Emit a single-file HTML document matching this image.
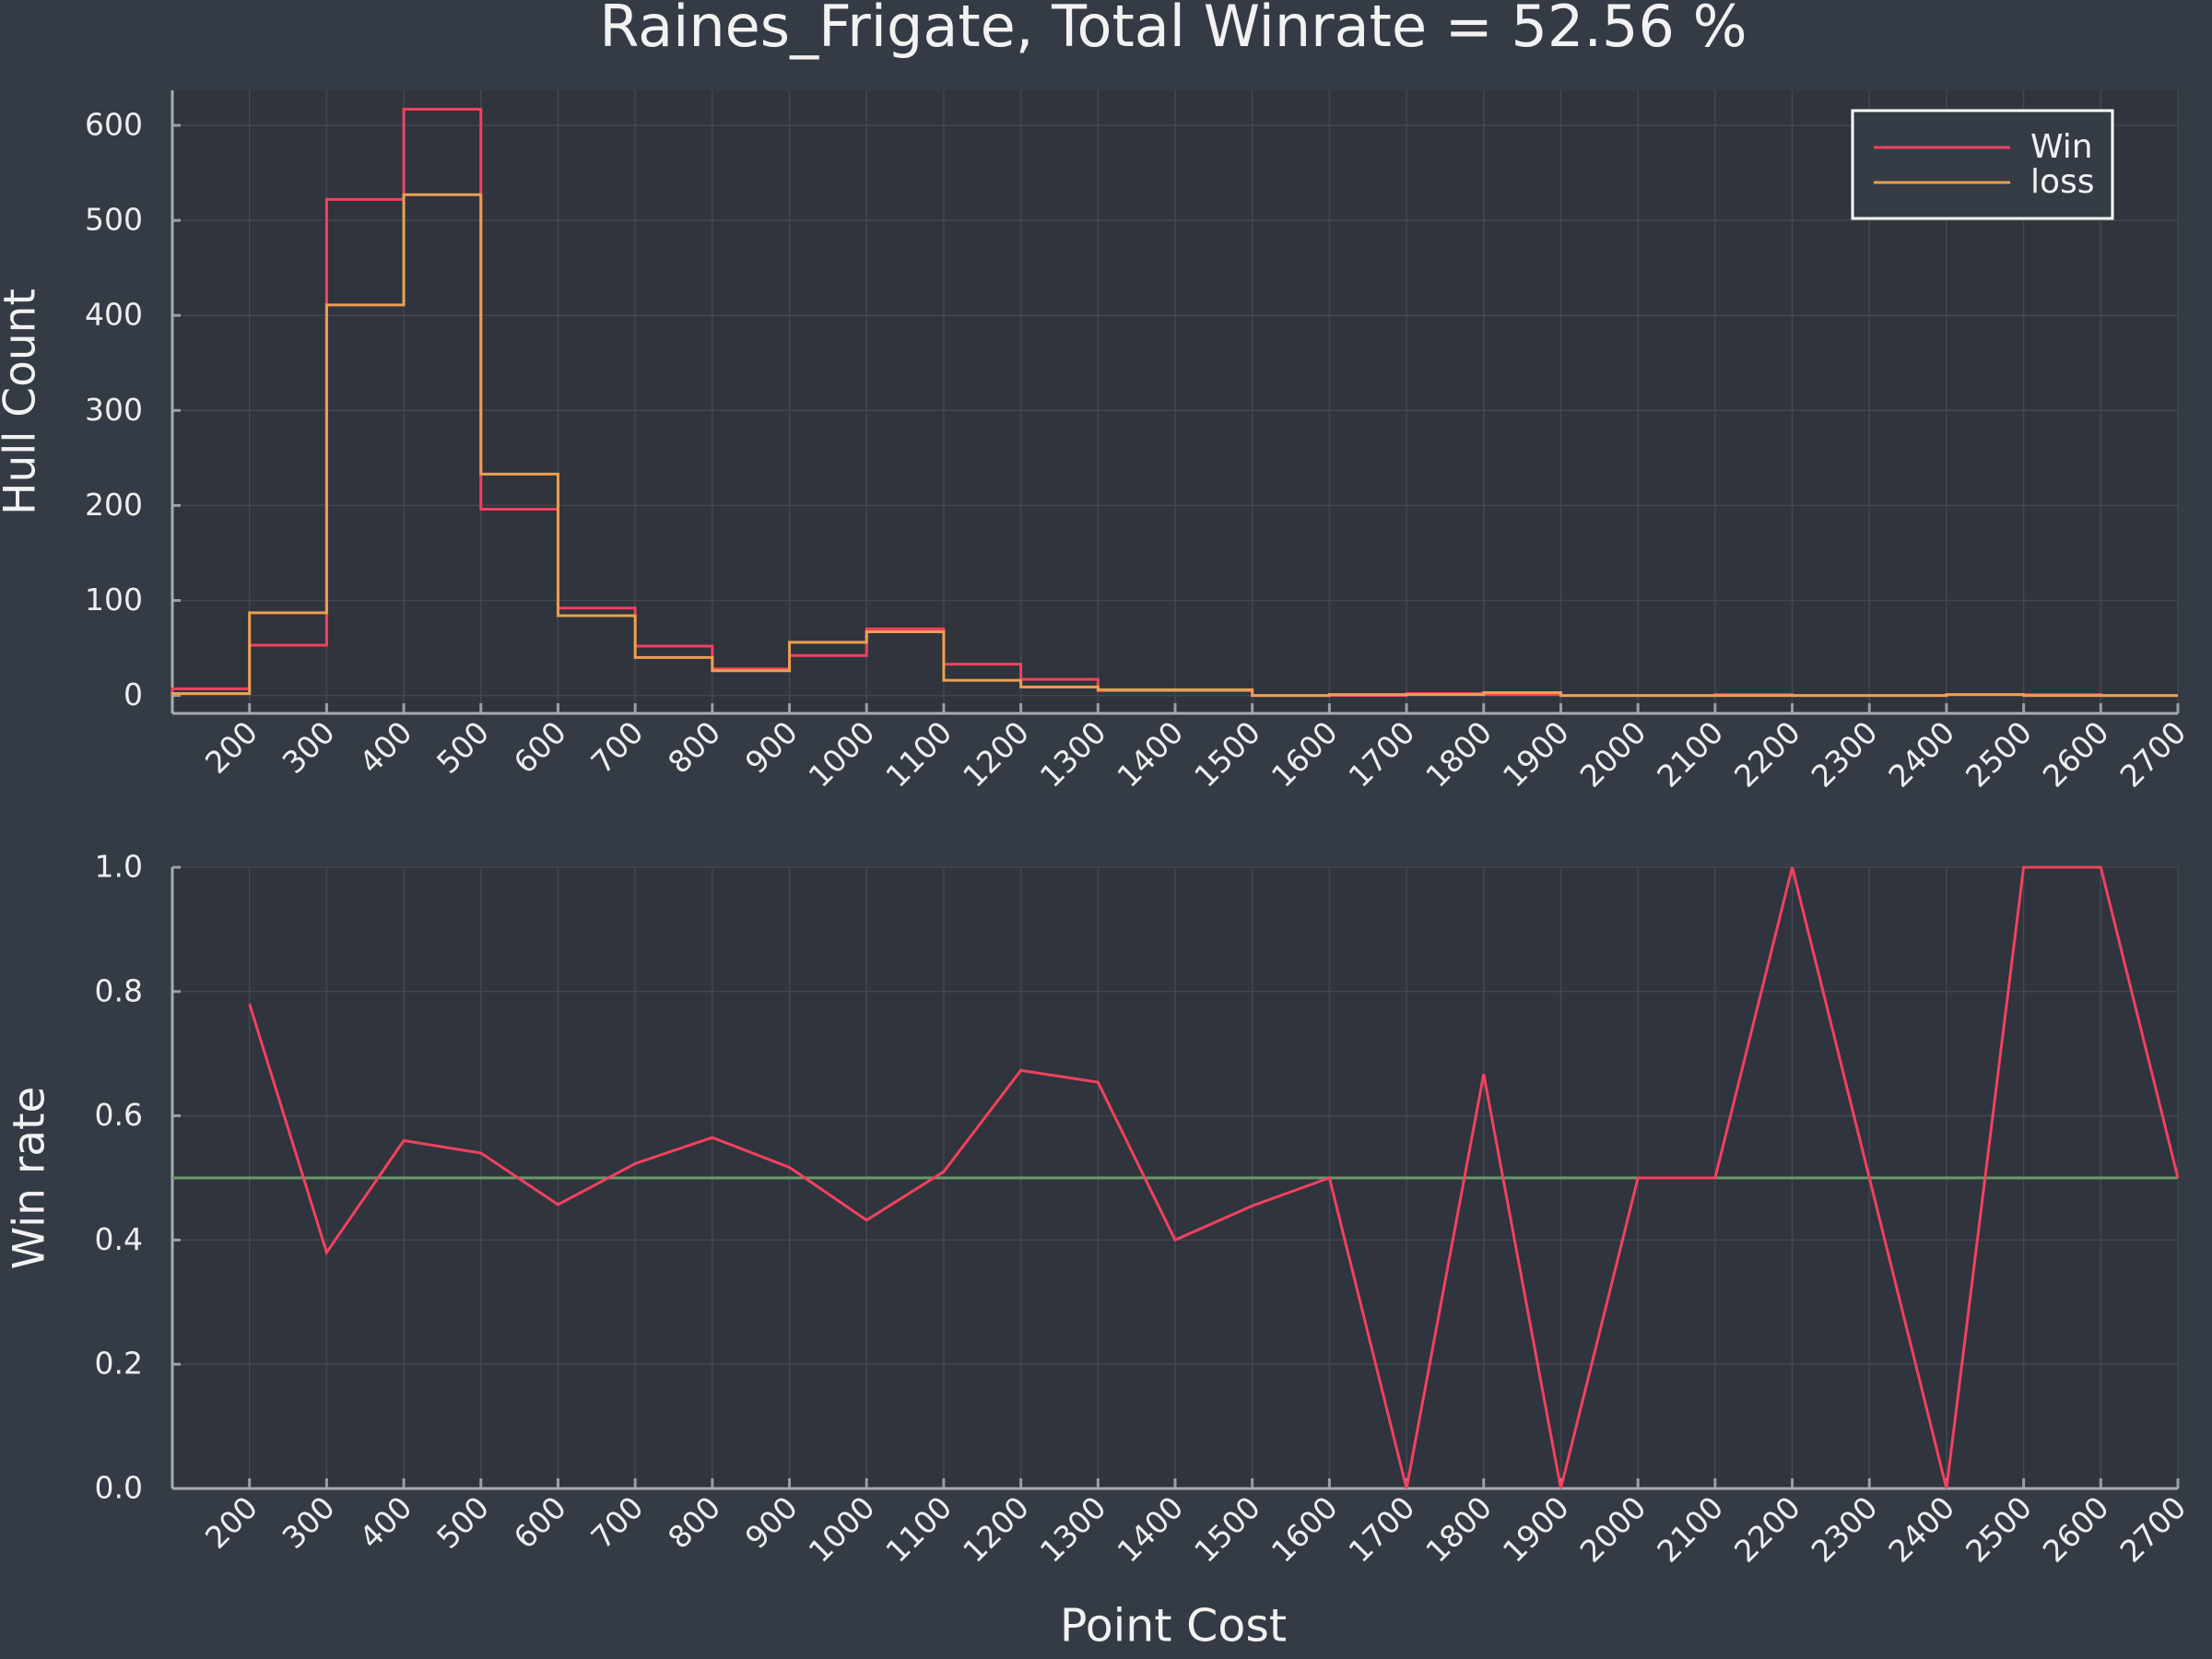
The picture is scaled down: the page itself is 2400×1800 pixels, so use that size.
<!DOCTYPE html>
<html><head><meta charset="utf-8"><style>
html,body{margin:0;padding:0;background:#353b45;}
svg{display:block;font-family:"DejaVu Sans","Liberation Sans",sans-serif;}
</style></head><body>
<svg id="chart" width="2400" height="1800" viewBox="0 0 2400 1800" xmlns="http://www.w3.org/2000/svg">
<rect x="0" y="0" width="2400" height="1800" fill="#353b45"/>
<text x="1273" y="33" fill="#f2f2f2" font-size="62" text-anchor="middle" dominant-baseline="middle">Raines_Frigate, Total Winrate = 52.56 %</text>
<g id="topPanel"></g>
<g id="botPanel"></g>
<text x="0" y="0" transform="translate(25,436) rotate(-90)" fill="#f2f2f2" font-size="47" text-anchor="middle" dominant-baseline="middle">Hull Count</text>
<text x="0" y="0" transform="translate(35,1278) rotate(-90)" fill="#f2f2f2" font-size="47" text-anchor="middle" dominant-baseline="middle">Win rate</text>
<text x="1273" y="1767" fill="#f2f2f2" font-size="49" text-anchor="middle" dominant-baseline="middle">Point Cost</text>
<g>
<rect x="2010" y="120" width="282" height="117" fill="#363c46" stroke="#ffffff" stroke-width="3"/>
<line x1="2033" y1="160" x2="2181" y2="160" stroke="#f2415f" stroke-width="3"/>
<text x="2203" y="161" fill="#f2f2f2" font-size="36" dominant-baseline="middle">Win</text>
<line x1="2033" y1="198" x2="2181" y2="198" stroke="#eba050" stroke-width="3"/>
<text x="2203" y="199" fill="#f2f2f2" font-size="36" dominant-baseline="middle">loss</text>
</g>
</svg>
<script>
const binEdges = [100,200,300,400,500,600,700,800,900,1000,1100,1200,1300,1400,1500,1600,1700,1800,1900,2000,2100,2200,2300,2400,2500,2600,2700];
const winCounts = [7,53,522,617,196,92,52,28,42,70,33,17,5,5,0,0,2,1,0,0,1,0,0,1,1,0];
const lossCounts = [2,87,411,527,233,84,40,26,56,67,16,9,6,6,0,1,1,3,0,0,0,0,0,1,0,0];
const rateX = [200,300,400,500,600,700,800,900,1000,1100,1200,1300,1400,1500,1600,1700,1800,1900,2000,2100,2200,2300,2400,2500,2600,2700];
const rateY = [0.78,0.38,0.56,0.54,0.457,0.523,0.565,0.517,0.432,0.51,0.673,0.654,0.40,0.455,0.5,0,0.667,0,0.5,0.5,1,0.5,0,1,1,0.5];
const xTicks = [200,300,400,500,600,700,800,900,1000,1100,1200,1300,1400,1500,1600,1700,1800,1900,2000,2100,2200,2300,2400,2500,2600,2700];
const topYTicks = [0,100,200,300,400,500,600];
const botYTicks = [0,0.2,0.4,0.6,0.8,1.0];
const botYLabels = ["0.0","0.2","0.4","0.6","0.8","1.0"];
const refLine = [0.5];

const NS = "http://www.w3.org/2000/svg";
const L = 187, R = 2363;
const xs = v => L + (v - 100) / 2600 * (R - L);
const topT = 98, topB = 774;
const yTop = v => 754.6 - v * (754.6 - 136) / 600;
const botT = 941, botB = 1615;
const yBot = v => botB - v * (botB - botT);

function mk(parent, tag, attrs) {
  const e = document.createElementNS(NS, tag);
  for (const k in attrs) e.setAttribute(k, attrs[k]);
  parent.appendChild(e);
  return e;
}

function panel(g, pTop, pBot, yf, yticks, ylabels, prefix) {
  const bg = mk(g, 'rect', {x: L, y: pTop, width: R - L, height: pBot - pTop, fill: '#30343c'});
  
  
  xTicks.forEach(t => {
    const gl = mk(g, 'line', {x1: xs(t), x2: xs(t), y1: pTop, y2: pBot, stroke: '#43474f', 'stroke-width': 1.5});
    
    
  });
  yticks.forEach((t, i) => {
    const y = yf(t);
    const gl = mk(g, 'line', {x1: L, x2: R, y1: y, y2: y, stroke: '#43474f', 'stroke-width': 1.5});
    
    
    const tk = mk(g, 'line', {x1: L, x2: L + 9, y1: y, y2: y, stroke: '#9a9ea5', 'stroke-width': 3});
    
    
    const tx = mk(g, 'text', {x: L - 32, y: y + 1, fill: '#eeeeee', 'font-size': 33, 'text-anchor': 'end', 'dominant-baseline': 'middle'});
    tx.textContent = ylabels[i];
    
    
  });
  xTicks.forEach(t => {
    const x = xs(t);
    const tk = mk(g, 'line', {x1: x, x2: x, y1: pBot, y2: pBot - 11, stroke: '#9a9ea5', 'stroke-width': 3});
    
    
    const tx = mk(g, 'text', {x: 0, y: 0, fill: '#eeeeee', 'font-size': 33, 'text-anchor': 'end', 'dominant-baseline': 'middle', transform: `translate(${x + 4},${pBot + 16}) rotate(-45)`});
    tx.textContent = String(t);
    
    
  });
  const ax = mk(g, 'line', {x1: L, x2: R, y1: pBot, y2: pBot, stroke: '#a8abb0', 'stroke-width': 3});
  
  
  const ay = mk(g, 'line', {x1: L, x2: L, y1: pTop, y2: pBot, stroke: '#a8abb0', 'stroke-width': 3});
  
  
}

const topG = document.getElementById('topPanel');
panel(topG, topT, topB, yTop, topYTicks, topYTicks.map(String), 'top');
function stepPath(counts) {
  let d = `M${xs(binEdges[0])},${yTop(0)}`;
  counts.forEach((c, i) => {
    d += ` L${xs(binEdges[i])},${yTop(c)} L${xs(binEdges[i + 1])},${yTop(c)}`;
  });
  d += ` L${xs(binEdges[counts.length])},${yTop(0)}`;
  return d;
}
const winP = mk(topG, 'path', {d: stepPath(winCounts), fill: 'none', stroke: '#f2415f', 'stroke-width': 3});


const lossP = mk(topG, 'path', {d: stepPath(lossCounts), fill: 'none', stroke: '#eba050', 'stroke-width': 3});



const botG = document.getElementById('botPanel');
panel(botG, botT, botB, yBot, botYTicks, botYLabels, 'bottom');
const rl = mk(botG, 'line', {x1: L, x2: R, y1: yBot(refLine[0]), y2: yBot(refLine[0]), stroke: '#6a9a6c', 'stroke-width': 3});


const pts = rateX.map((x, i) => `${xs(x)},${yBot(rateY[i])}`).join(' ');
const wl = mk(botG, 'polyline', {points: pts, fill: 'none', stroke: '#f2415f', 'stroke-width': 3, 'stroke-linejoin': 'miter'});


</script>
</body></html>
